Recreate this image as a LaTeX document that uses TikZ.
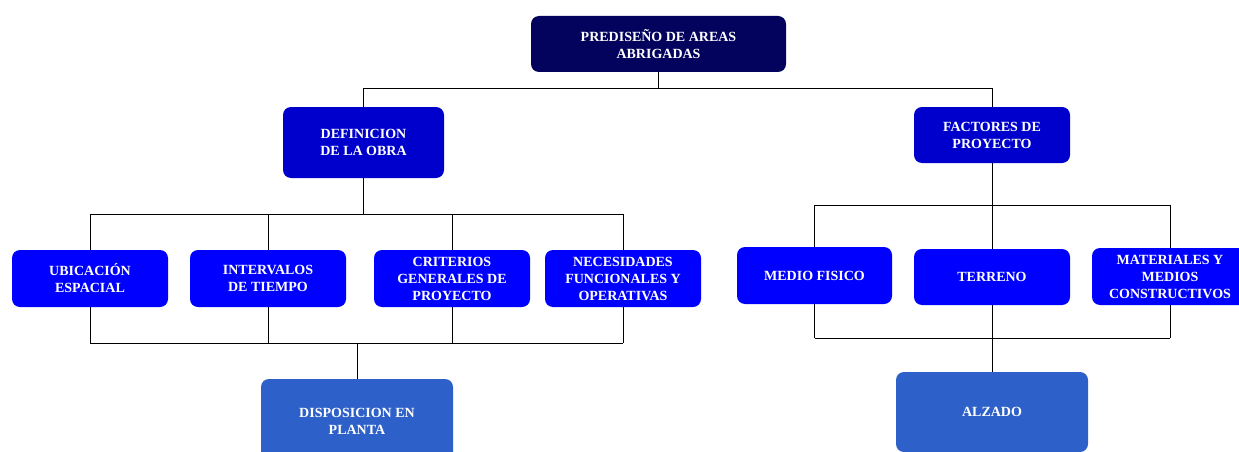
\documentclass[tikz,border=0pt]{standalone}
\usepackage{fontspec}
\setmainfont{Liberation Serif}
\usetikzlibrary{backgrounds}
\definecolor{navybox}{RGB}{3,3,94}
\definecolor{midbox}{RGB}{0,0,204}
\definecolor{bluebox}{RGB}{0,0,255}
\definecolor{lowbox}{RGB}{45,96,200}
\tikzset{
  box/.style={rounded corners=8pt, text=white, font=\bfseries\fontsize{14}{17}\selectfont,
    align=center, inner sep=0pt},
  conn/.style={draw=black, line width=1pt}
}
\begin{document}
\begin{tikzpicture}[x=1pt,y=-1pt]
\useasboundingbox (0,0) rectangle (1239,452);
% level 1
\node[box, fill=navybox, minimum width=255pt, minimum height=56pt] (top) at (658.5,44) {PREDISEÑO DE AREAS\\ABRIGADAS};
% level 2
\node[box, fill=midbox, minimum width=161pt, minimum height=71pt] (def) at (363.5,142.5) {DEFINICION\\DE LA OBRA};
\node[box, fill=midbox, minimum width=156pt, minimum height=56pt] (fac) at (992,135) {FACTORES DE\\PROYECTO};
% level 3 left
\node[box, fill=bluebox, minimum width=156pt, minimum height=57pt] (ubi) at (90,278.5) {UBICACIÓN\\ESPACIAL};
\node[box, fill=bluebox, minimum width=156pt, minimum height=57pt] (int) at (268,278.5) {INTERVALOS\\DE TIEMPO};
\node[box, fill=bluebox, minimum width=156pt, minimum height=57pt] (cri) at (452,278.5) {CRITERIOS\\GENERALES DE\\PROYECTO};
\node[box, fill=bluebox, minimum width=156pt, minimum height=57pt] (nec) at (623,278.5) {NECESIDADES\\FUNCIONALES Y\\OPERATIVAS};
% level 3 right
\node[box, fill=bluebox, minimum width=155pt, minimum height=57pt] (med) at (814.5,275.5) {MEDIO FISICO};
\node[box, fill=bluebox, minimum width=156pt, minimum height=56pt] (ter) at (992,277) {TERRENO};
\node[box, fill=bluebox, minimum width=156pt, minimum height=57pt] (mat) at (1170,276.5) {MATERIALES Y\\MEDIOS\\CONSTRUCTIVOS};
% level 4
\node[box, fill=lowbox, minimum width=192pt, minimum height=84pt] (disp) at (357,421) {DISPOSICION EN\\PLANTA};
\node[box, fill=lowbox, minimum width=192pt, minimum height=80pt] (alz) at (992,412) {ALZADO};
% row coordinates
\coordinate (lt) at (0,214);
\coordinate (lb) at (0,343);
\coordinate (rt) at (0,205);
\coordinate (rb) at (0,338);
\begin{scope}[on background layer]
\draw[conn] (top.south) -- ++(0,16) coordinate (j1) -| (def.north);
\draw[conn] (j1) -| (fac.north);
% left tree
\draw[conn] (def.south) -- (def.south |- lt);
\draw[conn] (ubi.center |- lt) -- (nec.center |- lt);
\draw[conn] (ubi.center |- lb) -- (nec.center |- lb);
\foreach \n in {ubi,int,cri,nec} \draw[conn] (\n.center |- lt) -- (\n.center |- lb);
\draw[conn] (disp.north |- lb) -- (disp.north);
% right tree
\draw[conn] (fac.south) -- (fac.south |- rt);
\draw[conn] (med.center |- rt) -- (mat.center |- rt);
\draw[conn] (med.center |- rb) -- (mat.center |- rb);
\foreach \n in {med,ter,mat} \draw[conn] (\n.center |- rt) -- (\n.center |- rb);
\draw[conn] (alz.north |- rb) -- (alz.north);
\end{scope}
\end{tikzpicture}
\end{document}
